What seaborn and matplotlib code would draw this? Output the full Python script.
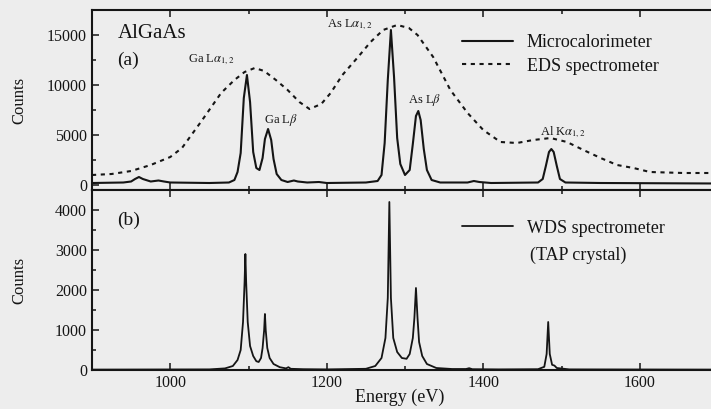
import matplotlib
matplotlib.use("Agg")
import matplotlib.pyplot as plt
import seaborn as sns
from matplotlib.ticker import MultipleLocator

# (a) microcalorimeter spectrum
calo_energy = [900, 940, 950, 955, 960, 965, 975, 985, 992, 1000, 1050, 1075, 1082, 1086,
               1090, 1094, 1098, 1102, 1106, 1110, 1114, 1118, 1121, 1125, 1129, 1132,
               1136, 1142, 1150, 1158, 1163, 1175, 1190, 1200, 1250, 1265, 1270, 1274,
               1278, 1282, 1286, 1290, 1294, 1300, 1306, 1310, 1314, 1317, 1320, 1324,
               1328, 1334, 1345, 1380, 1388, 1395, 1410, 1470, 1476, 1480, 1484, 1487,
               1490, 1494, 1498, 1505, 1550, 1700]
calo_counts = [200, 250, 350, 600, 800, 600, 350, 450, 350, 250, 200, 250, 500, 1300,
               3200, 8700, 11000, 8300, 3300, 1700, 1500, 2700, 4600, 5600, 4500, 2600,
               1100, 500, 300, 450, 350, 250, 300, 200, 250, 400, 1000, 4200,
               10500, 15500, 10800, 4700, 2100, 1000, 1500, 4100, 6900, 7400, 6500, 3600,
               1500, 500, 250, 250, 400, 300, 200, 250, 600, 1900, 3300, 3600,
               3300, 1900, 600, 250, 200, 150]

# (a) EDS spectrometer envelope
eds_energy = [900, 925, 950, 975, 1000, 1015, 1040, 1065, 1082, 1095, 1108, 1120, 1135,
              1150, 1165, 1178, 1193, 1205, 1220, 1240, 1256, 1272, 1290, 1305, 1316,
              1336, 1358, 1380, 1400, 1422, 1443, 1464, 1486, 1507, 1528, 1550, 1571,
              1592, 1613, 1656, 1700]
eds_counts = [1000, 1100, 1400, 2000, 2800, 3700, 6400, 9200, 10500, 11300, 11700, 11400, 10500,
              9500, 8300, 7600, 8100, 9200, 11000, 12800, 14300, 15500, 16000, 15700, 15000,
              12800, 9500, 7200, 5500, 4300, 4200, 4500, 4700, 4300, 3500, 2700, 2000,
              1700, 1300, 1200, 1200]

# (b) WDS spectrometer
wds_energy = [900, 1050, 1070, 1080, 1086, 1090, 1093, 1095, 1096, 1097, 1099, 1102, 1106,
              1110, 1113, 1116, 1118, 1120, 1121, 1122, 1124, 1127, 1132, 1140, 1148,
              1151, 1154, 1170, 1200, 1250, 1262, 1270, 1275, 1278, 1280, 1282, 1285,
              1290, 1296, 1302, 1306, 1310, 1312, 1314, 1316, 1318, 1322, 1328, 1340,
              1360, 1378, 1382, 1386, 1420, 1470, 1478, 1481, 1483, 1485, 1488, 1491,
              1494, 1510, 1700]
wds_counts = [10, 15, 40, 100, 250, 500, 1200, 2200, 2900, 2200, 1200, 600, 350,
              220, 200, 300, 550, 1000, 1400, 1000, 550, 300, 150, 70, 40,
              70, 30, 20, 15, 30, 100, 300, 800, 1800, 4200, 1800, 800,
              450, 300, 280, 400, 800, 1300, 2050, 1300, 700, 350, 150, 50,
              25, 25, 45, 20, 15, 20, 80, 400, 1200, 400, 130, 110,
              50, 15, 10]

xticks = [1000, 1200, 1400, 1600]
yticks_a = [0, 5000, 10000, 15000]
yticks_b = [0, 1000, 2000, 3000, 4000]

peak_labels = [r"Ga L$\alpha_{1,2}$", r"Ga L$\beta$", r"As L$\alpha_{1,2}$",
               r"As L$\beta$", r"Al K$\alpha_{1,2}$"]
peak_label_x = [1052, 1141, 1229, 1325, 1502]
peak_label_y = [12500, 6500, 16000, 8500, 5300]

sns.set_style("ticks")
plt.rcParams["font.family"] = ["Liberation Serif", "DejaVu Serif"]
plt.rcParams["mathtext.fontset"] = "stix"

bg = "#ededed"
ink = "#151515"

fig = plt.figure(figsize=(7.11, 4.09), dpi=100, facecolor=bg)
ax_a = fig.add_axes([92 / 711, 1 - 190 / 409, 626 / 711, 180 / 409])
ax_b = fig.add_axes([92 / 711, 1 - 370 / 409, 626 / 711, 180 / 409])

sns.lineplot(x=calo_energy, y=calo_counts, ax=ax_a, color=ink, lw=1.5,
             label="Microcalorimeter")
sns.lineplot(x=eds_energy, y=eds_counts, ax=ax_a, color=ink, lw=1.5,
             linestyle=(0, (2, 2.2)), label="EDS spectrometer")
sns.lineplot(x=wds_energy, y=wds_counts, ax=ax_b, color=ink, lw=1.3,
             label="WDS spectrometer")

for ax in (ax_a, ax_b):
    ax.set_facecolor(bg)
    ax.set_xlim(900, 1700)
    ax.set_xticks(xticks)
    ax.xaxis.set_minor_locator(MultipleLocator(100))
    ax.tick_params(which="both", direction="in", top=True, right=True,
                   colors=ink, labelsize=11.5, width=1.1)
    ax.tick_params(which="major", length=5)
    ax.tick_params(which="minor", length=3)
    for s in ax.spines.values():
        s.set_color(ink)
        s.set_linewidth(1.5)
    ax.set_ylabel("Counts", fontsize=12, color=ink)
    ax.yaxis.set_label_coords(-0.103, 0.5)
    ax.set_xlabel("")

ax_a.set_ylim(-500, 17500)
ax_a.set_yticks(yticks_a)
ax_a.yaxis.set_minor_locator(MultipleLocator(2500))
ax_a.tick_params(axis="x", labelbottom=False)

ax_b.set_ylim(0, 4500)
ax_b.set_yticks(yticks_b)
ax_b.yaxis.set_minor_locator(MultipleLocator(500))
ax_b.set_xlabel("Energy (eV)", fontsize=13, color=ink)
ax_b.xaxis.set_label_coords((400 - 92) / 626, -0.105)

ax_a.text(0.042, 0.87, "AlGaAs", transform=ax_a.transAxes, fontsize=15,
          color=ink, va="center")
ax_a.text(0.040, 0.72, "(a)", transform=ax_a.transAxes, fontsize=14,
          color=ink, va="center")
ax_b.text(0.040, 0.83, "(b)", transform=ax_b.transAxes, fontsize=14,
          color=ink, va="center")

for lbl, x, y in zip(peak_labels, peak_label_x, peak_label_y):
    ax_a.text(x, y, lbl, fontsize=9, color=ink, ha="center", va="center")

leg_kw = dict(frameon=False, fontsize=13, handlelength=2.8, handletextpad=0.8,
              labelspacing=0.35, borderpad=0, borderaxespad=0, loc="upper left",
              labelcolor=ink)
ax_a.legend(bbox_to_anchor=(0.591, 0.865), **leg_kw)
ax_b.legend(bbox_to_anchor=(0.591, 0.835), **leg_kw)
ax_b.text((530 - 92) / 626, (370 - 255) / 180, "(TAP crystal)", transform=ax_b.transAxes,
          fontsize=13, color=ink, va="center")

fig.savefig("out.png", dpi=100, facecolor=bg)
